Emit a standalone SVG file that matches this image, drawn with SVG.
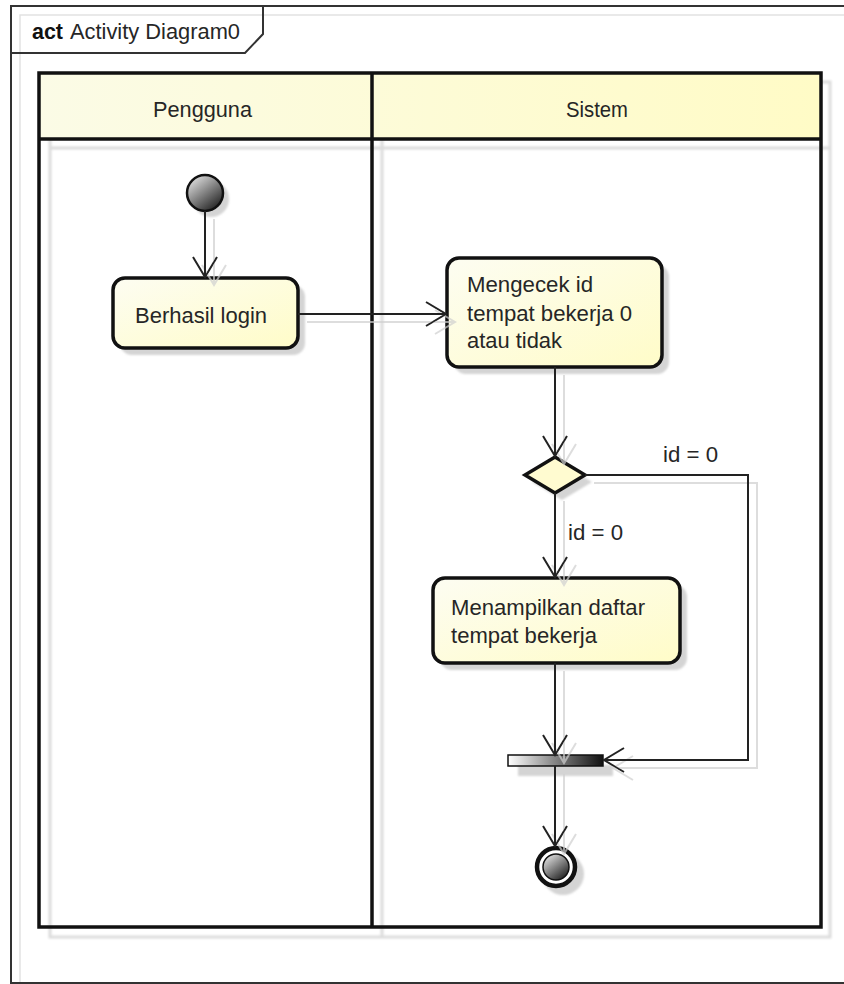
<svg xmlns="http://www.w3.org/2000/svg" width="844" height="984" viewBox="0 0 844 984">
  <style>
    text { font-family: "Liberation Sans", Arial, sans-serif; font-size: 22px; fill: #262626; }
    .bold { font-weight: bold; fill: #111; }
    .lane { fill: none; stroke: #111; stroke-width: 3.5; }
    .laneShadow { fill: none; stroke: #dcdcdc; stroke-width: 3; }
    .action { fill: url(#actionFill); stroke: #111; stroke-width: 3.5; }
    .nodeShadow { fill: #d4d4d4; }
    .flow { fill: none; stroke: #222; stroke-width: 2; marker-end: url(#openArrow); }
  </style>
  <defs>
    <linearGradient id="actionFill" x1="0" y1="0" x2="1" y2="1">
      <stop offset="0" stop-color="#fdfdf2"/>
      <stop offset="1" stop-color="#fffcc8"/>
    </linearGradient>
    <linearGradient id="headerFill" x1="0" y1="0" x2="1" y2="0">
      <stop offset="0" stop-color="#fbfbe6"/>
      <stop offset="1" stop-color="#fffbc6"/>
    </linearGradient>
    <linearGradient id="initialFill" x1="0.2" y1="0.1" x2="0.85" y2="0.95">
      <stop offset="0" stop-color="#d6d6d6"/>
      <stop offset="0.5" stop-color="#7a7a7a"/>
      <stop offset="1" stop-color="#1e1e1e"/>
    </linearGradient>
    <linearGradient id="barFill" x1="0" y1="0" x2="1" y2="0">
      <stop offset="0" stop-color="#ffffff"/>
      <stop offset="0.55" stop-color="#777777"/>
      <stop offset="1" stop-color="#111111"/>
    </linearGradient>
    <filter id="flowShadow" x="-20%" y="-20%" width="140%" height="140%">
      <feOffset in="SourceAlpha" dx="9" dy="8" result="off"/>
      <feGaussianBlur in="off" stdDeviation="0.6" result="blur"/>
      <feFlood flood-color="#cfcfcf" flood-opacity="0.7"/>
      <feComposite in2="blur" operator="in" result="shadow"/>
      <feMerge>
        <feMergeNode in="shadow"/>
        <feMergeNode in="SourceGraphic"/>
      </feMerge>
    </filter>
    <filter id="soft" x="-10%" y="-10%" width="120%" height="120%">
      <feGaussianBlur stdDeviation="1.2"/>
    </filter>
    <marker id="openArrow" markerUnits="userSpaceOnUse" markerWidth="30" markerHeight="30" viewBox="-22 -15 26 30" refX="0" refY="0" orient="auto" overflow="visible">
      <path d="M-20,-12 L0,0 L-20,12" fill="none" stroke="#222" stroke-width="2"/>
    </marker>
  </defs>

  <rect width="844" height="984" fill="#ffffff"/>

  <!-- diagram frame -->
  <g id="frame">
    <path d="M20,984 L20,15 L844,15" fill="none" stroke="#e2e2e2" stroke-width="1.5"/>
    <path d="M11,984 L11,6 L844,6" fill="none" stroke="#333" stroke-width="2"/>
    <path d="M11,983 L844,983" fill="none" stroke="#333" stroke-width="2"/>
    <path d="M11,53 L245,53 L263,34 L263,6" fill="none" stroke="#333" stroke-width="2"/>
    <text x="32" y="39" class="bold" textLength="31" lengthAdjust="spacingAndGlyphs">act</text>
    <text x="70" y="39" textLength="170" lengthAdjust="spacingAndGlyphs">Activity Diagram0</text>
  </g>

  <!-- partitions -->
  <g id="partitions">
    <g filter="url(#soft)">
      <rect x="50" y="82" width="780" height="855" class="laneShadow"/>
      <line x1="50" y1="148" x2="830" y2="148" class="laneShadow"/>
      <line x1="382" y1="82" x2="382" y2="937" class="laneShadow"/>
    </g>
    <rect x="39" y="73" width="782" height="66" fill="url(#headerFill)"/>
    <rect x="39" y="73" width="782" height="854" class="lane"/>
    <line x1="39" y1="139" x2="821" y2="139" class="lane"/>
    <line x1="372" y1="73" x2="372" y2="927" class="lane"/>
    <text x="153" y="117" textLength="99" lengthAdjust="spacingAndGlyphs">Pengguna</text>
    <text x="566" y="117" textLength="62" lengthAdjust="spacingAndGlyphs">Sistem</text>
  </g>

  <!-- initial node -->
  <g id="initial">
    <circle cx="211" cy="199" r="18" class="nodeShadow" filter="url(#soft)"/>
    <circle cx="205" cy="193" r="18" fill="url(#initialFill)" stroke="#111" stroke-width="2.5"/>
  </g>

  <!-- action: Berhasil login -->
  <g id="berhasil-login">
    <rect x="120" y="285" width="185" height="70" rx="12" class="nodeShadow" filter="url(#soft)"/>
    <rect x="113" y="278" width="185" height="70" rx="12" class="action"/>
    <text x="135" y="323" textLength="132" lengthAdjust="spacingAndGlyphs">Berhasil login</text>
  </g>

  <!-- action: Mengecek id -->
  <g id="mengecek-id">
    <rect x="454" y="265" width="215" height="109" rx="12" class="nodeShadow" filter="url(#soft)"/>
    <rect x="447" y="258" width="215" height="109" rx="12" class="action"/>
    <text x="467" y="292" textLength="126" lengthAdjust="spacingAndGlyphs">Mengecek id</text>
    <text x="467" y="321" textLength="165" lengthAdjust="spacingAndGlyphs">tempat bekerja 0</text>
    <text x="467" y="348" textLength="95" lengthAdjust="spacingAndGlyphs">atau tidak</text>
  </g>

  <!-- decision -->
  <g id="decision">
    <path d="M562,464 L592,482 L562,500 L532,482 Z" class="nodeShadow" filter="url(#soft)"/>
    <path d="M555,457 L585,475 L555,493 L525,475 Z" fill="#fffbd0" stroke="#111" stroke-width="3.5" stroke-linejoin="miter"/>
  </g>

  <!-- action: Menampilkan daftar -->
  <g id="menampilkan-daftar">
    <rect x="440" y="585" width="247" height="85" rx="12" class="nodeShadow" filter="url(#soft)"/>
    <rect x="433" y="578" width="247" height="85" rx="12" class="action"/>
    <text x="451" y="615" textLength="194" lengthAdjust="spacingAndGlyphs">Menampilkan daftar</text>
    <text x="451" y="643" textLength="146" lengthAdjust="spacingAndGlyphs">tempat bekerja</text>
  </g>

  <!-- join bar -->
  <g id="join">
    <rect x="518" y="765" width="95" height="11" class="nodeShadow" filter="url(#soft)"/>
    <rect x="508" y="755" width="95" height="11" fill="url(#barFill)" stroke="#111" stroke-width="1.5"/>
  </g>

  <!-- final node -->
  <g id="final">
    <circle cx="563" cy="874" r="21" class="nodeShadow" filter="url(#soft)"/>
    <circle cx="556" cy="867" r="19" fill="#ffffff" stroke="#111" stroke-width="4.5"/>
    <circle cx="556" cy="867" r="13" fill="url(#initialFill)" stroke="#111" stroke-width="1.5"/>
  </g>

  <!-- control flows -->
  <g id="connectors" filter="url(#flowShadow)">
    <path class="flow" d="M205,211 L205,277"/>
    <path class="flow" d="M298,314 L446,314"/>
    <path class="flow" d="M555,367 L555,456"/>
    <path class="flow" d="M585,475 L748,475 L748,760 L604,760"/>
    <path class="flow" d="M555,493 L555,577"/>
    <path class="flow" d="M555,663 L555,755"/>
    <path class="flow" d="M555,766 L555,846"/>
  </g>
  <g id="flow-labels">
    <text x="663" y="462" textLength="55" lengthAdjust="spacingAndGlyphs">id = 0</text>
    <text x="568" y="540" textLength="55" lengthAdjust="spacingAndGlyphs">id = 0</text>
  </g>
</svg>
